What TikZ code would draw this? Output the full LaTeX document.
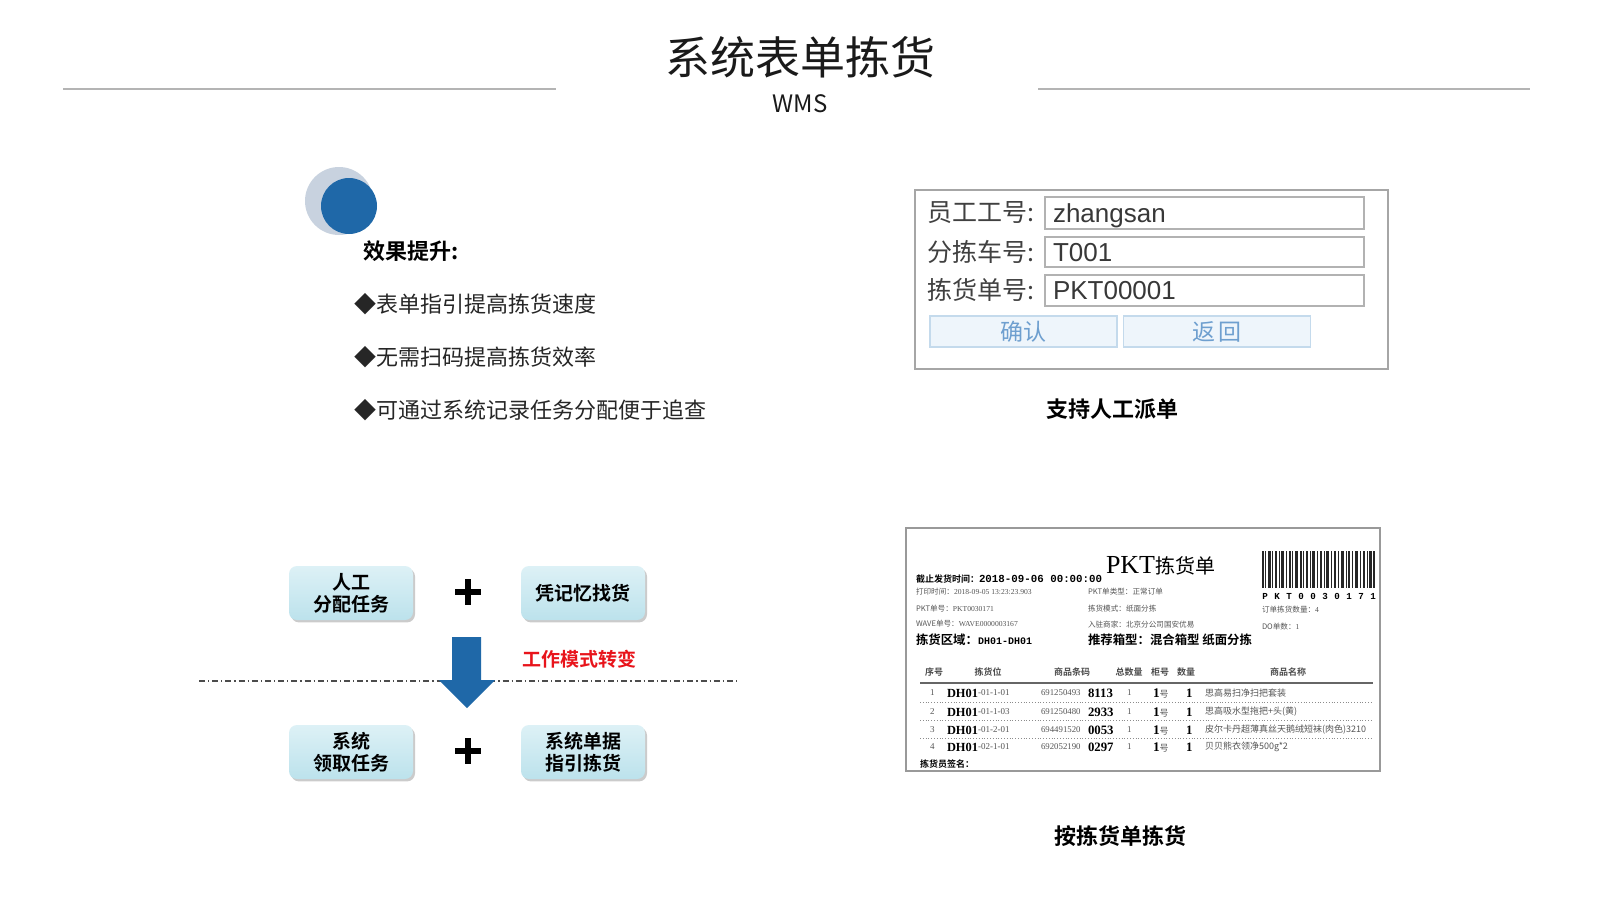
\documentclass[tikz,border=0pt]{standalone}
\usepackage{fontspec}
\setmainfont{Noto Sans CJK SC}[BoldFont={Noto Sans CJK SC Bold}]
\newfontfamily\arialf{Liberation Sans}
\newfontfamily\timesf{Liberation Serif}
\newfontfamily\monof{Liberation Mono}
\usetikzlibrary{shadows}
\definecolor{circblue}{HTML}{1F68A8}
\definecolor{circgray}{HTML}{C8D2DF}
\definecolor{rulegray}{HTML}{B4B4B4}
\definecolor{btnfill}{HTML}{EEF5FB}
\definecolor{btndraw}{HTML}{C4DAEC}
\definecolor{btntext}{HTML}{6E9FCF}
\definecolor{boxtop}{HTML}{DDF1F6}
\definecolor{boxbot}{HTML}{BCE2EC}
\definecolor{redtxt}{HTML}{E8141B}
\definecolor{slipgray}{HTML}{555555}
\definecolor{titlecol}{HTML}{1A1A1A}
\newcommand\slipsmall[2]{{\fontsize{3.8}{4}\selectfont #1\timesf #2}}
\begin{document}
\begin{tikzpicture}[x=0.5pt,y=-0.5pt,
  txt/.style={inner sep=0pt,outer sep=0pt},
  lft/.style={txt,anchor=west},
  bullet/.style={lft,font=\fontsize{11}{13}\selectfont,text=black!85},
  caption/.style={txt,font=\fontsize{11}{13}\selectfont\bfseries},
  formlabel/.style={lft,font=\fontsize{12.5}{14}\selectfont,text=black!75},
  forminput/.style={lft,font=\arialf\fontsize{13}{15}\selectfont,text=black!78},
  inbox/.style={draw=black!30,line width=0.7pt},
  btn/.style={draw=btndraw,fill=btnfill,line width=0.6pt,minimum width=93.5pt,minimum height=15.5pt,inner sep=0pt,text=btntext,font=\fontsize{11.5}{13}\selectfont},
  modebox/.style={rounded corners=4pt,top color=boxtop,bottom color=boxbot,minimum width=62pt,minimum height=27pt,inner sep=0pt,align=center,font=\fontsize{9.5}{11}\selectfont\bfseries,drop shadow={shadow xshift=1pt,shadow yshift=-1.2pt,fill=black!40}},
  plusline/.style={line width=2.6pt,black},
  slipg/.style={lft,text=slipgray},
  slipb/.style={lft,text=black,font=\bfseries},
  hdr/.style={txt,text=black!70,font=\fontsize{4.5}{5}\selectfont\bfseries},
  rowsm/.style={lft,text=slipgray,font=\timesf\fontsize{4.5}{5}\selectfont},
  rowbig/.style={lft,text=black,font=\timesf\bfseries\fontsize{6.4}{7}\selectfont}
]
\useasboundingbox (0,0) rectangle (1600,900);
\fill[white] (0,0) rectangle (1600,900);

% ---------- title ----------
\node[txt,text=titlecol,font=\fontsize{22.5}{26}\selectfont] (title) at (800,57) {系统表单拣货};
\node[txt,text=titlecol,font=\fontsize{12}{14}\selectfont] (wms) at (800,104) {WMS};
\draw[rulegray,line width=1pt] (63,89) -- (556,89);
\draw[rulegray,line width=1pt] (1038,89) -- (1530,89);

% ---------- top left ----------
\fill[circgray] (339,201) circle[radius=34];
\fill[circblue] (349,206) circle[radius=28];
\node[lft,font=\fontsize{11}{13}\selectfont\bfseries] (effect) at (363,251) {效果提升:};
\node[bullet] (b1) at (354,304) {◆表单指引提高拣货速度};
\node[bullet] (b2) at (354,357) {◆无需扫码提高拣货效率};
\node[bullet] (b3) at (354,410) {◆可通过系统记录任务分配便于追查};

% ---------- top right form ----------
\draw[black!35,line width=0.8pt] (915,190) rectangle (1388,369);
\draw[inbox] (1045,197) rectangle (1364,229);
\draw[inbox] (1045,237) rectangle (1364,267);
\draw[inbox] (1045,275) rectangle (1364,306);
\node[formlabel] (l1) at (927,213) {员工工号:};
\node[formlabel] (l2) at (927,252) {分拣车号:};
\node[formlabel] (l3) at (927,290) {拣货单号:};
\node[forminput] (i1) at (1053,216) {zhangsan};
\node[forminput] (i2) at (1053,253) {T001};
\node[forminput] (i3) at (1053,291) {PKT00001};
\node[btn] (ok) at (1023.5,331.5) {确认};
\node[btn] (back) at (1217,331.5) {返\,回};
\node[caption] (cap1) at (1112,409) {支持人工派单};

% ---------- bottom left ----------
\draw[black!70,line width=0.7pt,dash pattern=on 3pt off 1.5pt on 0.6pt off 1.5pt] (199,681) -- (740,681);
\node[modebox] (m1) at (351,593) {人工\\分配任务};
\node[modebox] (m2) at (583,593) {凭记忆找货};
\node[modebox] (m3) at (351,752) {系统\\领取任务};
\node[modebox] (m4) at (583,752) {系统单据\\指引拣货};
\draw[plusline] (455,592) -- (481,592);
\draw[plusline] (468,579) -- (468,605);
\draw[plusline] (455,751) -- (481,751);
\draw[plusline] (468,738) -- (468,764);
\fill[circblue] (452,637) -- (481,637) -- (481,680) -- (495,680) -- (467,708) -- (439,680) -- (452,680) -- cycle;
\node[lft,text=redtxt,font=\fontsize{9.5}{11}\selectfont\bfseries] (mode) at (522,659) {工作模式转变};

% ---------- bottom right slip ----------
\draw[black!40,line width=0.8pt] (906,528) rectangle (1380,771);
\node[lft,font=\fontsize{4.5}{5}\selectfont\bfseries] (deadline) at (916,579) {截止发货时间：{\monof\bfseries\fontsize{5.4}{6}\selectfont 2018-09-06 00:00:00}};
\node[lft,font=\fontsize{10}{12}\selectfont] (pkttitle) at (1106,566) {{\timesf\fontsize{13}{14}\selectfont PKT}拣货单};
\node[slipg] (print) at (916,592) {\slipsmall{打印时间：}{2018-09-05 13:23:23.903}};
\node[slipg] (pktno) at (916,609) {\slipsmall{PKT单号：}{PKT0030171}};
\node[slipg] (wave) at (916,624) {\slipsmall{WAVE单号：}{WAVE0000003167}};
\node[slipg] (ptype) at (1088,592) {\slipsmall{PKT单类型：正常订单}{}};
\node[slipg] (pmode) at (1088,609) {\slipsmall{拣货模式：纸面分拣}{}};
\node[slipg] (merch) at (1088,625) {\slipsmall{入驻商家：北京分公司国安优易}{}};
\node[slipb,font=\fontsize{6.2}{7}\selectfont\bfseries] (area) at (916,640) {拣货区域：{\monof\bfseries\fontsize{5}{6}\selectfont DH01-DH01}};
\node[slipb,font=\fontsize{6.2}{7}\selectfont\bfseries] (boxtype) at (1088,640) {推荐箱型：混合箱型 纸面分拣};
% barcode
\foreach \a/\w in {1262/2,1265/1,1268/3,1272/1,1275/2,1279/1,1281/3,1286/1,1289/2,1292/1,1295/3,1300/2,1303/1,1306/2,1310/1,1312/3,1317/1,1320/2,1324/1,1326/3,1331/1,1334/2,1338/1,1341/3,1346/1,1348/2,1352/1,1355/3,1360/1,1363/2,1367/1,1369/3,1373/2}
  \fill[black!85] (\a,551) rectangle ++(\w,37);
\foreach \c [count=\i] in {P,K,T,0,0,3,0,1,7,1}
  \node[txt,font=\monof\bfseries\fontsize{4.6}{5}\selectfont] (bc\i) at ({1265+(\i-1)*12},596) {\c};
\node[slipg] (qty) at (1262,610) {\slipsmall{订单拣货数量：}{4}};
\node[slipg] (dono) at (1262,627) {\slipsmall{DO单数：}{1}};
% table header
\node[hdr] (h1) at (934,672) {序号};
\node[hdr] (h2) at (988,672) {拣货位};
\node[hdr] (h3) at (1072,672) {商品条码};
\node[hdr] (h4) at (1129,672) {总数量};
\node[hdr] (h5) at (1160,672) {柜号};
\node[hdr] (h6) at (1186,672) {数量};
\node[hdr] (h7) at (1288,672) {商品名称};
\draw[black!60,line width=0.6pt] (920,683) -- (1373,683);
\foreach \yy in {702,720,738}
  \draw[black!45,line width=0.4pt,densely dotted] (920,\yy) -- (1373,\yy);
\foreach \yy/\idx/\suf/\pre/\code/\pname [count=\r] in {
   693/1/-01-1-01/691250493/8113/思高易扫净扫把套装,
   712/2/-01-1-03/691250480/2933/思高吸水型拖把+头(黄),
   730/3/-01-2-01/694491520/0053/皮尔卡丹超薄真丝天鹅绒短袜(肉色)3210,
   747/4/-02-1-01/692052190/0297/贝贝熊衣领净500g*2}{
  \node[rowsm] (ri\r) at (930,\yy) {\idx};
  \node[lft,text=black,font=\timesf\bfseries\fontsize{6.2}{7}\selectfont] (rd\r) at (947,\yy) {DH01};
  \node[rowsm] (rs\r) at (978,\yy) {\suf};
  \node[lft,text=slipgray,font=\timesf\fontsize{4.4}{5}\selectfont] (rp\r) at (1041,\yy) {\pre};
  \node[rowbig] (rc\r) at (1088,\yy) {\code};
  \node[rowsm] (rt\r) at (1127,\yy) {1};
  \node[lft,text=black,font=\timesf\bfseries\fontsize{6.6}{7}\selectfont] (rg\r) at (1153,\yy) {1{\rmfamily\mdseries\color{slipgray}\fontsize{4.5}{5}\selectfont 号}};
  \node[rowbig] (rq\r) at (1186,\yy) {1};
  \node[lft,text=slipgray,font=\fontsize{4.5}{5}\selectfont] (rn\r) at (1205,\yy) {\pname};
}
\node[lft,font=\fontsize{4.5}{5}\selectfont\bfseries] (sign) at (920,764) {拣货员签名：};
\node[caption] (cap2) at (1120,836) {按拣货单拣货};
\end{tikzpicture}
\end{document}
